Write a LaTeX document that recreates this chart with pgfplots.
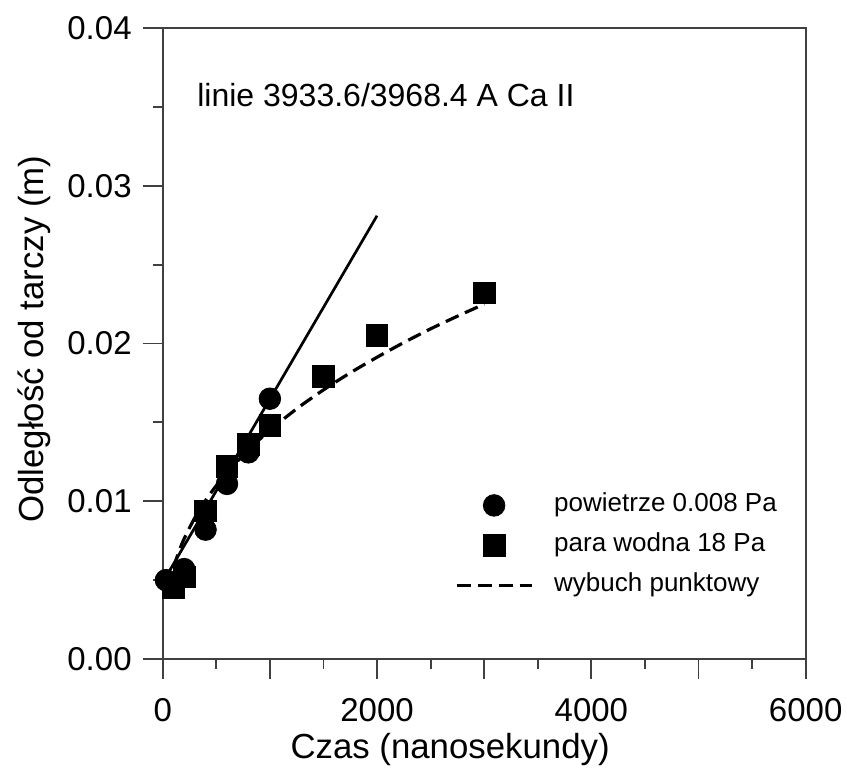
\documentclass[border=0pt]{standalone}
\usepackage{pgfplots}
\pgfplotsset{compat=1.18}
\usepackage{fontspec}
\setmainfont{Liberation Sans}
\pgfplotsset{
  markleg/.style={legend image code/.code={\draw[mark repeat=2,mark phase=2,##1] plot coordinates {(0pt,0pt) (18.75pt,0pt) (37.5pt,0pt)};}},
  lineleg/.style={legend image code/.code={\draw[##1] (0pt,0pt) -- (37.5pt,0pt);}},
}
\begin{document}
\fontsize{16}{19}\selectfont
\begin{tikzpicture}
\begin{axis}[
  scale only axis,
  width=321.5pt, height=315.5pt,
  xmin=0, xmax=6000, ymin=0, ymax=0.04,
  axis line style={black!75, line width=0.9pt},
  tick style={black!75, line width=0.9pt},
  tick align=outside,
  xtick pos=bottom, ytick pos=left,
  major tick length=10pt, minor tick length=5pt,
  xtick={0,1000,...,6000},
  xticklabels={0,,2000,,4000,,6000},
  minor xtick={500,1500,...,5500},
  ytick={0,0.01,0.02,0.03,0.04},
  minor ytick={0.005,0.015,0.025,0.035},
  scaled y ticks=false,
  yticklabel style={/pgf/number format/.cd, fixed, fixed zerofill, precision=2},
  xticklabel style={yshift=-4pt, /pgf/number format/.cd, set thousands separator={}},
  /pgf/number format/assume math mode=true,
  ticklabel style={font=\fontsize{16.5}{19}\selectfont},
  xlabel={Czas (nanosekundy)},
  ylabel={Odległość od tarczy (m)},
  xlabel style={at={(axis description cs:0.447,0)}, anchor=center, yshift=-45pt},
  ylabel style={at={(axis description cs:0,0.507)}, anchor=center, yshift=64pt},
  label style={font=\fontsize{17.4}{20}\selectfont},
  legend style={at={(axis cs:2724,0.0072)}, anchor=west, draw=none, fill=none,
    inner sep=0pt, font=\fontsize{13}{15}\selectfont, row sep=7.5pt,
    nodes={inner sep=0pt, text height=9.5pt, text depth=3pt},
    /tikz/every odd column/.append style={column sep=10.5pt}},
  legend cell align=left,
]
\coordinate (sw) at (rel axis cs:0,0);
% powietrze 0.008 Pa
\addplot[only marks, mark=*, mark size=5.4pt, black, markleg]
  coordinates {(30,0.0050) (200,0.0057) (400,0.0082) (600,0.0111) (800,0.0131) (1000,0.0165)};
\addlegendentry{powietrze 0.008 Pa}
% para wodna 18 Pa
\addplot[only marks, mark=square*, mark size=5.4pt, black, markleg]
  coordinates {(100,0.0045) (200,0.0052) (400,0.0094) (600,0.0122) (800,0.0136) (1000,0.0148) (1500,0.0179) (2000,0.0205) (3000,0.0232)};
\addlegendentry{para wodna 18 Pa}
% wybuch punktowy
\addplot[black, line width=1.6pt, dash pattern=on 7pt off 3.5pt, smooth, lineleg]
  coordinates {(100,0.00577) (150,0.00679) (200,0.00762) (300,0.00896) (400,0.01005) (500,0.01099) (600,0.01182) (800,0.01326) (1000,0.01450) (1250,0.01586) (1500,0.01706) (1750,0.01814) (2000,0.01913) (2250,0.02006) (2500,0.02093) (2750,0.02173) (3000,0.02250)};
\addlegendentry{wybuch punktowy}
% linear fit
\addplot[black, line width=1.35pt, forget plot] coordinates {(30,0.0052) (2000,0.0281)};
\node[anchor=base west, inner sep=0pt, font=\fontsize{16}{19}\selectfont] at (axis cs:320,0.03504) {linie 3933.6/3968.4 A Ca II};
\end{axis}
\pgfresetboundingbox
\path ([shift={(-81.35pt,-54pt)}]sw) rectangle ([shift={(341.65pt,329.5pt)}]sw);
\end{tikzpicture}
\end{document}
